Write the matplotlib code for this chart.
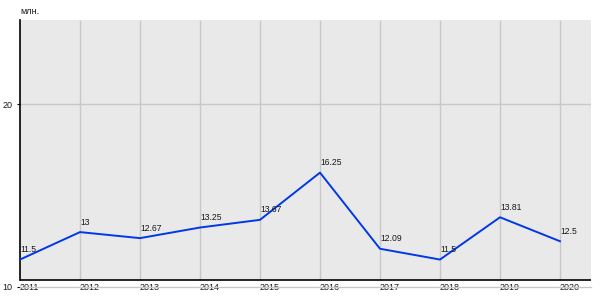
import matplotlib
matplotlib.use('Agg')
from matplotlib import pyplot as plt

years = [2011, 2012, 2013, 2014, 2015, 2016, 2017, 2018, 2019, 2020]
values = [11.5, 13, 12.67, 13.25, 13.67, 16.25, 12.09, 11.5, 13.81, 12.5]
value_labels = ['11.5', '13', '12.67', '13.25', '13.67', '16.25', '12.09', '11.5', '13.81', '12.5']
y_ticks = [10, 20]
unit_label = 'млн.'

plt.rcParams['font.family'] = ['Liberation Sans', 'DejaVu Sans']

fig = plt.figure(figsize=(6, 3), dpi=100)
# axes: x 20..591 px, y 20..287 px from top
ax = fig.add_axes([20 / 600, 13 / 300, 571 / 600, 267 / 300])

y_top = 10 + 267 / 18.3
floor = 10 + 7 / 18.3  # grey area and black axis end a bit above 10
x_right = 2011 + 571 / 60

ax.set_xlim(2011, x_right)
ax.set_ylim(10, y_top)
ax.patch.set_visible(False)

grid = '#c8c8c8'
txt = '#1a1a1a'
ax.axhspan(floor, y_top, color='#e9e9e9', zorder=0, lw=0)
ax.vlines(years[1:], floor, y_top, color=grid, lw=1, zorder=1)
ax.axhline(20, color=grid, lw=1, zorder=1)
ax.axhline(10, color=grid, lw=1, zorder=3, clip_on=False)
ax.axhline(floor, color='black', lw=1.2, zorder=3)

for s in ['top', 'right', 'bottom']:
    ax.spines[s].set_visible(False)
ax.spines['left'].set_bounds(floor, y_top)
ax.spines['left'].set_linewidth(1.2)

ax.set_yticks(y_ticks)
ax.set_yticklabels([str(v) for v in y_ticks], fontsize=6.5, color=txt)
ax.tick_params(axis='y', length=2.2, width=0.8, pad=3)
ax.set_xticks([])

for yr in years:
    ax.text(yr, 10, str(yr), ha='left', va='center', fontsize=6.5,
            color=txt, zorder=2)

ax.plot(years, values, color='#0038e8', lw=1.4, zorder=4, clip_on=False)
for yr, v, lab in zip(years, values, value_labels):
    ax.annotate(lab, (yr, v), xytext=(0, 4), textcoords='offset points',
                ha='left', va='bottom', fontsize=6.2, color=txt, zorder=5)

fig.text(20 / 600, 1 - 12 / 300, unit_label, ha='left', va='center', fontsize=6.5,
         color=txt)

fig.savefig('out.png', dpi=100)
